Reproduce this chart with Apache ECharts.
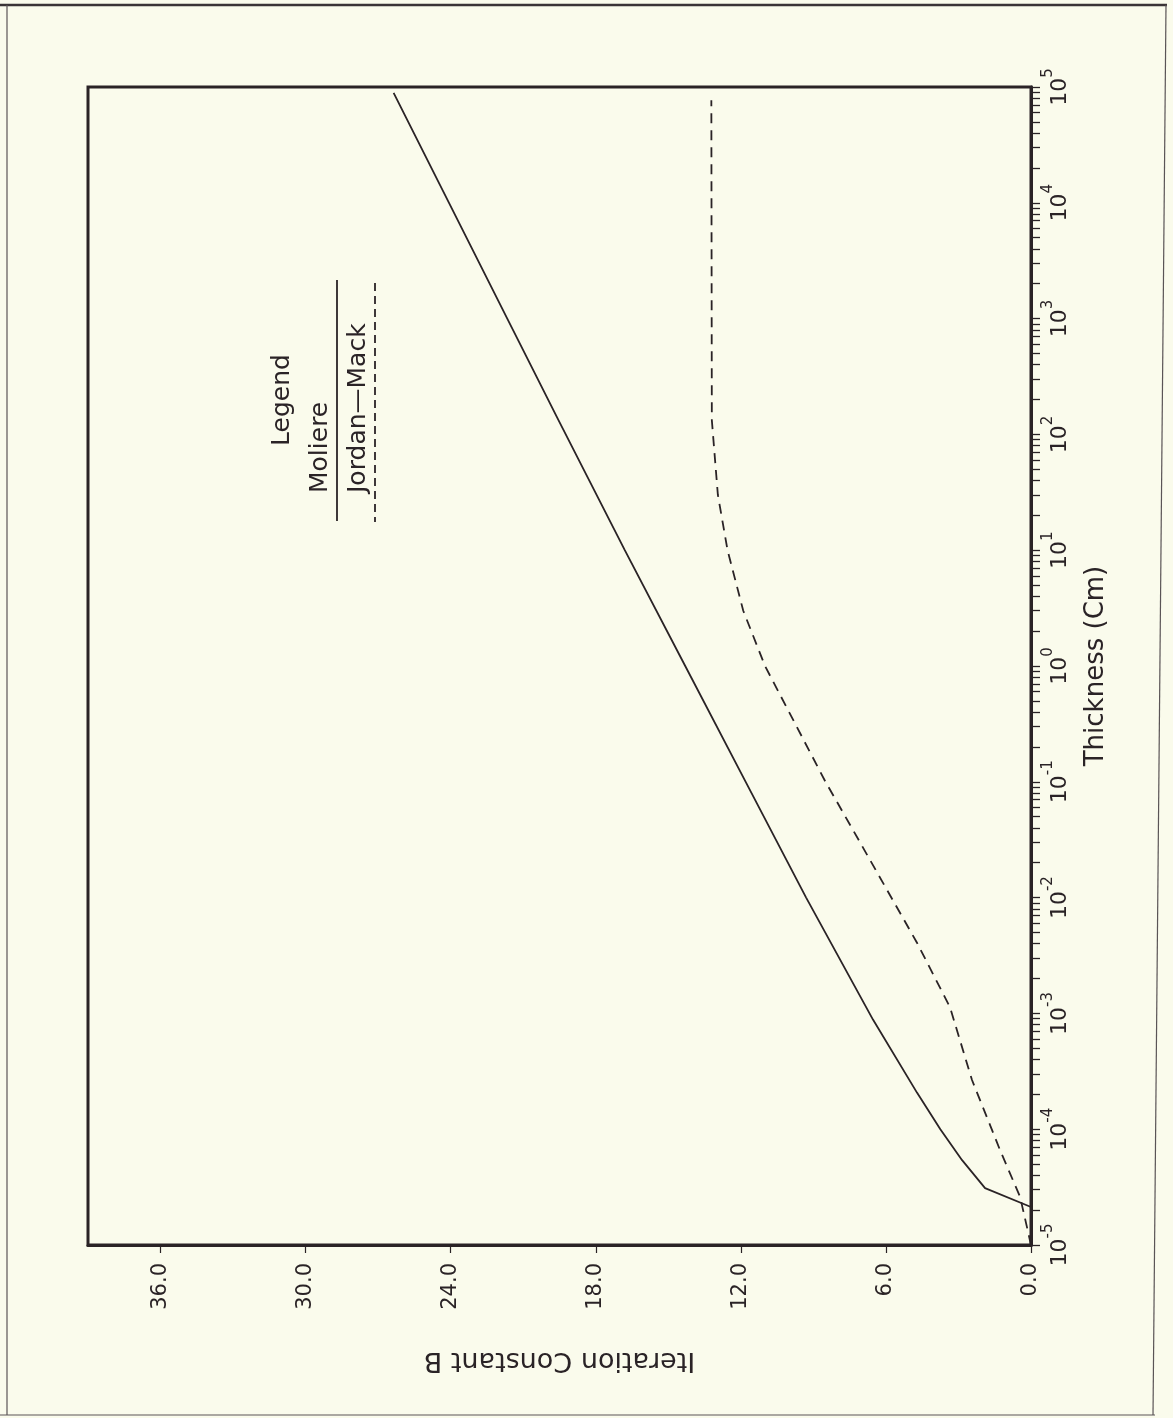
<!DOCTYPE html>
<html>
<head>
<meta charset="utf-8">
<script src="https://cdn.jsdelivr.net/npm/echarts@6/dist/echarts.min.js"></script>
<style>
html,body{margin:0;padding:0;background:#fafbec;}
#chart{width:1173px;height:1418px;}
</style>
</head>
<body>
<div id="chart"></div>
<script>
// ---- data ----
// Moliere (solid): thickness in cm, iteration constant B
const moliereThickness = [2.13e-5, 3.1e-5, 5.4e-5, 1e-4, 2.06e-4, 8.8e-4, 1e-2, 1e-1, 1, 10, 139, 1e3, 1e4, 8.9e4];
const moliereB         = [0.0,     1.9,    2.85,   3.75, 4.71,    6.53,   9.3,  11.8, 14.3, 16.8, 19.59, 21.66, 24.07, 26.36];
// Jordan-Mack (dashed)
const jordanThickness = [1e-5, 2.6e-5, 6.6e-5, 2.66e-4, 1.13e-3, 4.06e-3, 1.34e-2, 4.24e-2, 1e-1, 1, 3, 10, 30, 133, 7.7e4];
const jordanB         = [0.0,  0.45,   1.28,   2.44,    3.35,    4.71,    6.12,    7.48,    8.5,  11.0, 11.9, 12.55, 12.95, 13.2, 13.22];

// ---- axis ticks / labels ----
const bTicks = [0, 6, 12, 18, 24, 30, 36];
const thicknessDecades = [1e-5, 1e-4, 1e-3, 1e-2, 1e-1, 1, 1e1, 1e2, 1e3, 1e4, 1e5];
const decadeExponents = ['-5', '-4', '-3', '-2', '-1', '0', '1', '2', '3', '4', '5'];
const minorMultipliers = [2, 3, 4, 5, 6, 7, 8, 9];

const allThicknessTicks = [];
thicknessDecades.forEach((d, i) => {
  allThicknessTicks.push(d);
  if (i < thicknessDecades.length - 1) minorMultipliers.forEach(m => allThicknessTicks.push(+(m * d).toPrecision(3)));
});

const ink = '#2a2326';
const font = 'DejaVu Sans';

const chart = echarts.init(document.getElementById('chart'));
chart.setOption({
  backgroundColor: '#fafbec',
  animation: false,
  grid: {
    left: 88, right: 142, top: 87, bottom: 173,
    show: true, borderColor: ink, borderWidth: 3, backgroundColor: 'transparent'
  },
  xAxis: {
    type: 'value', min: 0, max: 39, inverse: true, position: 'bottom',
    axisLine: {show: true, onZero: false, lineStyle: {color: ink, width: 3}},
    axisTick: {show: true, customValues: bTicks, length: 8, lineStyle: {color: ink, width: 1.2}},
    axisLabel: {
      customValues: bTicks, rotate: 90, margin: 18, color: ink, fontFamily: font, fontSize: 21,
      formatter: v => v.toFixed(1)
    },
    splitLine: {show: false},
    name: 'Iteration Constant B', nameLocation: 'middle', nameRotate: 180, nameGap: 102,
    nameTextStyle: {color: ink, fontFamily: font, fontSize: 27}
  },
  yAxis: {
    type: 'log', logBase: 10, min: 1e-5, max: 1e5, position: 'right',
    axisLine: {show: true, onZero: false, lineStyle: {color: ink, width: 3}},
    axisTick: {show: true, inside: false, customValues: allThicknessTicks, length: 9, lineStyle: {color: ink, width: 1.3}},
    axisLabel: {
      customValues: thicknessDecades, rotate: 90, margin: 10, color: ink, fontFamily: font,
      formatter: v => {
        const i = thicknessDecades.findIndex(d => Math.abs(Math.log10(d) - Math.log10(v)) < 1e-6);
        return '{b|10}{e|' + decadeExponents[i] + '}';
      },
      rich: {
        b: {fontSize: 22, fontFamily: font, color: ink, lineHeight: 30, verticalAlign: 'bottom'},
        e: {fontSize: 15, fontFamily: font, color: ink, lineHeight: 15, verticalAlign: 'top'}
      }
    },
    splitLine: {show: false},
    minorTick: {show: false},
    name: 'Thickness (Cm)', nameLocation: 'middle', nameGap: 52,
    nameTextStyle: {color: ink, fontFamily: font, fontSize: 26}
  },
  series: [
    {
      name: 'Moliere', type: 'line', symbol: 'none', clip: false,
      data: moliereB.map((b, i) => [b, moliereThickness[i]]),
      lineStyle: {color: ink, width: 1.8}
    },
    {
      name: 'Jordan—Mack', type: 'line', symbol: 'none', clip: false,
      data: jordanB.map((b, i) => [b, jordanThickness[i]]),
      lineStyle: {color: ink, width: 1.8, type: [10, 7]}
    }
  ],
  graphic: [
    // scanned page border
    {type: 'polyline', shape: {points: [[0, 5], [1167, 5]]}, style: {stroke: '#3a3436', lineWidth: 2.5, fill: null}},
    {type: 'polyline', shape: {points: [[7, 5], [7, 1415]]}, style: {stroke: '#5a5456', lineWidth: 1.2, fill: null}},
    {type: 'polyline', shape: {points: [[1166, 5], [1153, 1415]]}, style: {stroke: '#5a5456', lineWidth: 1.2, fill: null}},
    {type: 'polyline', shape: {points: [[0, 1415], [1155, 1415]]}, style: {stroke: '#5a5456', lineWidth: 1.2, fill: null}},
    // legend
    {type: 'text', x: 282, y: 400, rotation: Math.PI / 2,
      style: {text: 'Legend', fontFamily: font, fontSize: 25, fill: ink, align: 'center', verticalAlign: 'middle'}},
    {type: 'text', x: 320, y: 493, rotation: Math.PI / 2,
      style: {text: 'Moliere', fontFamily: font, fontSize: 25, fill: ink, align: 'left', verticalAlign: 'middle'}},
    {type: 'line', shape: {x1: 337, y1: 280, x2: 337, y2: 521}, style: {stroke: ink, lineWidth: 1.8}},
    {type: 'text', x: 358, y: 493, rotation: Math.PI / 2,
      style: {text: 'Jordan—Mack', fontFamily: font, fontSize: 25, fill: ink, align: 'left', verticalAlign: 'middle'}},
    {type: 'line', shape: {x1: 375, y1: 283, x2: 375, y2: 522}, style: {stroke: ink, lineWidth: 1.8, lineDash: [8, 5]}}
  ]
});
</script>
</body>
</html>
